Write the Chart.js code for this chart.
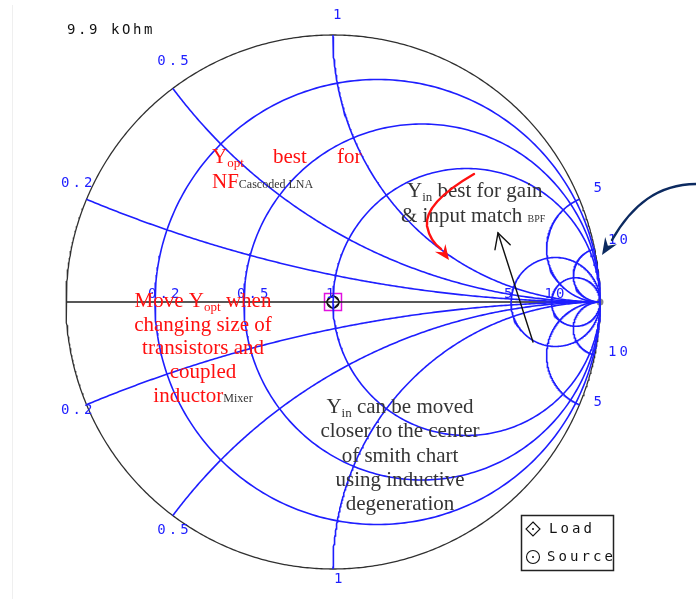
<!DOCTYPE html>
<html>
<head>
<meta charset="utf-8">
<script src="https://cdn.jsdelivr.net/npm/chart.js@4.4.0/dist/chart.umd.min.js"></script>
<style>
  html, body { margin: 0; padding: 0; background: #ffffff; }
  #wrap { position: relative; width: 696px; height: 599px; }
</style>
</head>
<body>
<div id="wrap"><canvas id="smith"></canvas></div>
<script>
// Normalised grid of the Smith chart
const resistanceValues = [0.2, 0.5, 1, 5, 10];
const reactanceValues = [0.2, 0.5, 1, 5, 10];
const resistanceTickLabels = ['0.2', '0.5', '1', '5', '10'];
const reactanceTickLabels = ['0.2', '0.5', '1', '5', '10'];
const referenceLabel = '9.9 kOhm';

// Reflection coefficients (real, imaginary) of the plotted terminations
const loadGamma = [0, 0];
const sourceGamma = [0, 0];
const openGamma = [1, 0];
const legendEntries = ['Load', 'Source'];

const GRID_BLUE = '#1e1eff';

function resistanceCircle(r) {
  const cx = r / (1 + r), rad = 1 / (1 + r), pts = [];
  for (let i = 0; i <= 360; i++) {
    const a = (i / 360) * 2 * Math.PI;
    pts.push({ x: cx + rad * Math.cos(a), y: rad * Math.sin(a) });
  }
  return pts;
}

function reactanceArc(x) {
  const ax = Math.abs(x), cy = 1 / ax, rad = 1 / ax;
  const px = (ax * ax - 1) / (ax * ax + 1), py = 2 * ax / (ax * ax + 1);
  const a0 = Math.atan2(py - cy, px - 1);
  let a1 = -Math.PI / 2;
  if (a1 < a0) a1 += 2 * Math.PI;
  const pts = [], n = 240, s = Math.sign(x);
  for (let i = 0; i <= n; i++) {
    const a = a0 + (a1 - a0) * i / n;
    pts.push({ x: 1 + rad * Math.cos(a), y: s * (cy + rad * Math.sin(a)) });
  }
  return pts;
}

function lineSet(data, color, width) {
  return { data, showLine: true, borderColor: color, borderWidth: width,
           pointRadius: 0, fill: false, tension: 0 };
}

const datasets = [];
resistanceValues.forEach(r => datasets.push(lineSet(resistanceCircle(r), GRID_BLUE, 1.6)));
reactanceValues.forEach(x => {
  datasets.push(lineSet(reactanceArc(x), GRID_BLUE, 1.6));
  datasets.push(lineSet(reactanceArc(-x), GRID_BLUE, 1.6));
});
// outer |Gamma| = 1 boundary and the real axis
const boundary = [];
for (let i = 0; i <= 720; i++) {
  const a = (i / 720) * 2 * Math.PI;
  boundary.push({ x: Math.cos(a), y: Math.sin(a) });
}
datasets.push(lineSet(boundary, '#303030', 1.3));
datasets.push(lineSet([{ x: -1, y: 0 }, { x: 1, y: 0 }], '#202020', 1.6));

// terminations
datasets.push({ data: [{ x: openGamma[0], y: openGamma[1] }], pointRadius: 3.5,
  pointBackgroundColor: '#8a8a8a', pointBorderWidth: 0, showLine: false });
datasets.push({ data: [{ x: sourceGamma[0], y: sourceGamma[1] }], pointStyle: 'rect', pointRadius: 12,
  pointBackgroundColor: 'rgba(0,0,0,0)', pointBorderColor: '#e010e0', pointBorderWidth: 1.5, showLine: false });
datasets.push({ data: [{ x: sourceGamma[0], y: sourceGamma[1] }], pointStyle: 'circle', pointRadius: 6,
  pointBackgroundColor: 'rgba(0,0,0,0)', pointBorderColor: '#111', pointBorderWidth: 1.2, showLine: false });
datasets.push({ data: [{ x: loadGamma[0], y: loadGamma[1] }], pointStyle: 'rectRot', pointRadius: 7,
  pointBackgroundColor: 'rgba(0,0,0,0)', pointBorderColor: '#111', pointBorderWidth: 1.1, showLine: false });
datasets.push({ data: [{ x: sourceGamma[0], y: sourceGamma[1] }], pointStyle: 'circle', pointRadius: 1.2,
  pointBackgroundColor: '#111', pointBorderWidth: 0, showLine: false });

const MONO = '14px "DejaVu Sans Mono", monospace';
function drawMono(ctx, text, x, y, adv) {
  ctx.font = MONO;
  ctx.textAlign = 'left';
  ctx.textBaseline = 'middle';
  for (let i = 0; i < text.length; i++) ctx.fillText(text[i], x + i * adv, y);
}
function drawMonoCentered(ctx, text, cx, y, adv) {
  const w = (text.length - 1) * adv + 8;
  drawMono(ctx, text, cx - w / 2, y, adv);
}

function arrowHead(ctx, tipX, tipY, fromX, fromY, len, half, filled) {
  const dx = tipX - fromX, dy = tipY - fromY, d = Math.hypot(dx, dy);
  const ux = dx / d, uy = dy / d, bx = tipX - ux * len, by = tipY - uy * len;
  ctx.beginPath();
  ctx.moveTo(bx - uy * half, by + ux * half);
  ctx.lineTo(tipX, tipY);
  ctx.lineTo(bx + uy * half, by - ux * half);
  if (filled) { ctx.lineTo(tipX - ux * len * 0.65, tipY - uy * len * 0.65); ctx.closePath(); ctx.fill(); }
  else ctx.stroke();
}

function richLine(ctx, parts, x, baseline, align) {
  // parts: [text, size, color, baselineShift]
  let total = 0;
  parts.forEach(p => { ctx.font = p[1] + 'px "Liberation Serif", "Times New Roman", serif'; total += ctx.measureText(p[0]).width; });
  let cx = align === 'center' ? x - total / 2 : x;
  ctx.textAlign = 'left';
  ctx.textBaseline = 'alphabetic';
  parts.forEach(p => {
    ctx.font = p[1] + 'px "Liberation Serif", "Times New Roman", serif';
    ctx.fillStyle = p[2];
    ctx.fillText(p[0], cx, baseline + (p[3] || 0));
    cx += ctx.measureText(p[0]).width;
  });
}

const chartText = {
  id: 'chartText',
  beforeDraw(chart) {
    const ctx = chart.ctx;
    ctx.save();
    ctx.fillStyle = '#ffffff';
    ctx.fillRect(0, 0, chart.width, chart.height);
    ctx.strokeStyle = '#efefef';
    ctx.lineWidth = 1;
    ctx.beginPath(); ctx.moveTo(12.5, 5); ctx.lineTo(12.5, chart.height); ctx.stroke();
    ctx.restore();
  },
  afterDatasetsDraw(chart) {
    const ctx = chart.ctx, xs = chart.scales.x, ys = chart.scales.y;
    const px = v => xs.getPixelForValue(v), py = v => ys.getPixelForValue(v);
    ctx.save();

    // reference impedance
    ctx.fillStyle = '#111';
    drawMono(ctx, referenceLabel, 67, 30, 11);

    // resistance labels along the real axis
    ctx.fillStyle = GRID_BLUE;
    resistanceValues.forEach((r, i) => {
      drawMono(ctx, resistanceTickLabels[i], px((r - 1) / (r + 1)) - 7, py(0) - 8, 11.5);
    });

    // reactance labels outside the boundary
    const upOff = [[-10, -16], [0, -27], [4, -20], [18, -11], [23, -9]];
    const lowOff = [[-10, 6], [0, 15], [5, 10], [18, -2], [23, -3]];
    reactanceValues.forEach((x, i) => {
      const gx = (x * x - 1) / (x * x + 1), gy = 2 * x / (x * x + 1);
      drawMonoCentered(ctx, reactanceTickLabels[i], px(gx) + upOff[i][0], py(gy) + upOff[i][1], 11.5);
      drawMonoCentered(ctx, reactanceTickLabels[i], px(gx) + lowOff[i][0], py(-gy) + lowOff[i][1], 11.5);
    });

    // legend
    ctx.strokeStyle = '#222';
    ctx.lineWidth = 1.5;
    ctx.strokeRect(521.5, 515.5, 92, 55);
    ctx.lineWidth = 1.1;
    ctx.strokeStyle = '#111';
    ctx.beginPath();
    ctx.moveTo(533, 522); ctx.lineTo(540, 529); ctx.lineTo(533, 536); ctx.lineTo(526, 529); ctx.closePath();
    ctx.stroke();
    ctx.fillStyle = '#111';
    ctx.beginPath(); ctx.arc(533, 529, 1, 0, 2 * Math.PI); ctx.fill();
    ctx.beginPath(); ctx.arc(533, 557, 6.5, 0, 2 * Math.PI); ctx.stroke();
    ctx.beginPath(); ctx.arc(533, 557, 1, 0, 2 * Math.PI); ctx.fill();
    drawMono(ctx, legendEntries[0], 549, 529, 11.5);
    drawMono(ctx, legendEntries[1], 547, 557, 11.5);

    // annotations
    const RED = '#ff1010', DARK = '#353535';
    richLine(ctx, [['Y', 21, RED], ['opt', 13, RED, 4]], 212, 163, 'left');
    richLine(ctx, [['best', 21, RED]], 273, 163, 'left');
    richLine(ctx, [['for', 21, RED]], 337, 163, 'left');
    richLine(ctx, [['NF', 21, RED], ['Cascoded LNA', 12, DARK]], 212, 188, 'left');

    richLine(ctx, [['Y', 21, DARK], ['in', 13, DARK, 4], [' best for gain', 21, DARK]], 407, 197, 'left');
    richLine(ctx, [['& input match ', 21, DARK], ['BPF', 10, DARK]], 401, 222, 'left');

    richLine(ctx, [['Move Y', 21, RED], ['opt', 13, RED, 4], [' when', 21, RED]], 203, 307, 'center');
    richLine(ctx, [['changing size of', 21, RED]], 203, 331, 'center');
    richLine(ctx, [['transistors and', 21, RED]], 203, 354, 'center');
    richLine(ctx, [['coupled', 21, RED]], 203, 378, 'center');
    richLine(ctx, [['inductor', 21, RED], ['Mixer', 12, DARK]], 203, 402, 'center');

    richLine(ctx, [['Y', 21, DARK], ['in', 13, DARK, 4], [' can be moved', 21, DARK]], 400, 413, 'center');
    richLine(ctx, [['closer to the center', 21, DARK]], 400, 437, 'center');
    richLine(ctx, [['of smith chart', 21, DARK]], 400, 462, 'center');
    richLine(ctx, [['using inductive', 21, DARK]], 400, 486, 'center');
    richLine(ctx, [['degeneration', 21, DARK]], 400, 510, 'center');

    // red curved arrow
    ctx.strokeStyle = RED; ctx.fillStyle = RED; ctx.lineWidth = 2.4; ctx.lineCap = 'round';
    ctx.beginPath();
    ctx.moveTo(474, 174);
    ctx.quadraticCurveTo(424, 203, 427, 226);
    ctx.quadraticCurveTo(430, 241, 441, 249);
    ctx.stroke();
    arrowHead(ctx, 449, 260, 438, 245, 15, 6.5, true);

    // black arrow
    ctx.strokeStyle = '#111'; ctx.lineWidth = 1.4;
    ctx.beginPath(); ctx.moveTo(533, 342); ctx.lineTo(498, 233); ctx.stroke();
    arrowHead(ctx, 498, 233, 533, 342, 15, 8, false);

    // navy curved arrow
    ctx.strokeStyle = '#0c2a60'; ctx.fillStyle = '#0c2a60'; ctx.lineWidth = 2.4;
    ctx.beginPath();
    ctx.moveTo(697, 184);
    ctx.bezierCurveTo(658, 184, 632, 205, 612, 240);
    ctx.stroke();
    arrowHead(ctx, 602, 255, 614, 236, 17, 7, true);

    ctx.restore();
  }
};

new Chart(document.getElementById('smith'), {
  type: 'scatter',
  data: { datasets },
  options: {
    responsive: true,
    maintainAspectRatio: false,
    animation: false,
    events: [],
    layout: { padding: 0, autoPadding: false },
    plugins: { legend: { display: false }, tooltip: { enabled: false } },
    scales: {
      x: { type: 'linear', min: -1.2472, max: 1.3596, display: false },
      y: { type: 'linear', min: -1.1124, max: 1.1311, display: false }
    }
  },
  plugins: [chartText]
});
</script>
</body>
</html>
